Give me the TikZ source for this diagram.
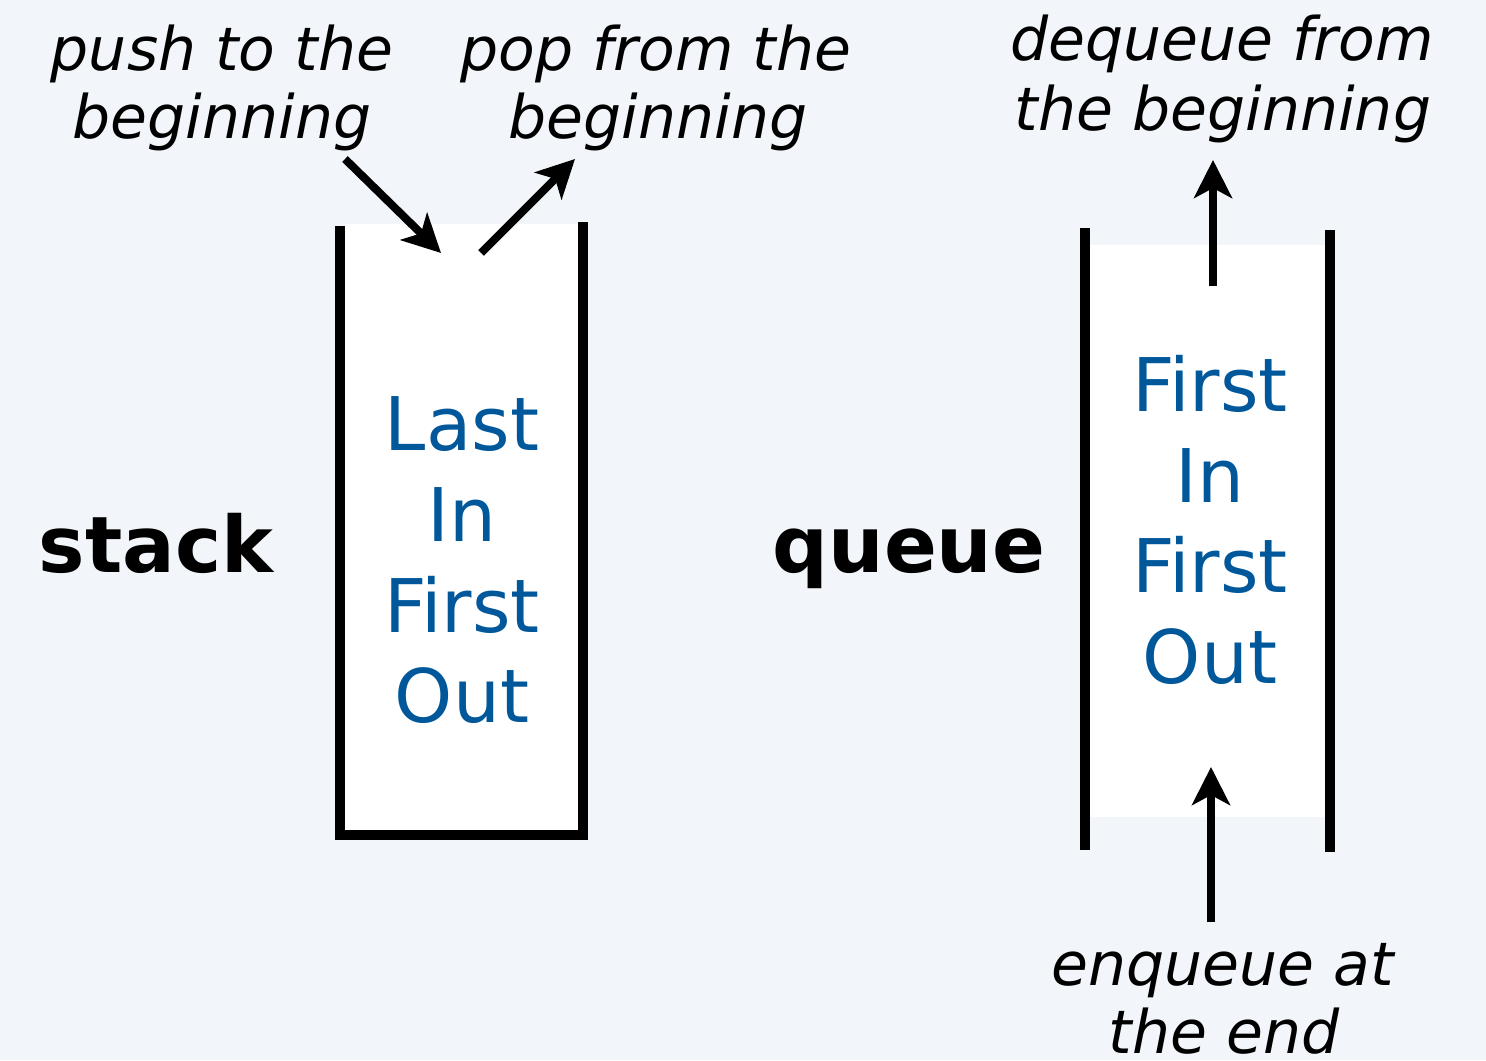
\documentclass[tikz,border=0pt]{standalone}
\usepackage{fontspec}
\setmainfont{DejaVu Sans}[ItalicFont={DejaVu Sans Oblique},BoldFont={DejaVu Sans Bold}]
\usetikzlibrary{arrows.meta}
\definecolor{bg}{HTML}{F2F6FA}
\definecolor{lifo}{HTML}{00589B}
\begin{document}
\begin{tikzpicture}[x=0.5pt,y=-0.5pt,
  note/.style={font=\fontsize{30}{34}\selectfont\itshape, anchor=base, inner sep=0pt},
  title/.style={font=\fontsize{39}{44}\selectfont\bfseries, anchor=base, inner sep=0pt},
  word/.style={font=\fontsize{37}{44}\selectfont, text=lifo, anchor=base, inner sep=0pt},
  wall/.style={line width=5pt, line join=miter},
  op/.style={line width=4pt, -{Stealth[length=19pt,width=19pt,inset=5pt]}}]
\fill[bg] (0,0) rectangle (1486,1060);
\useasboundingbox (0,0) rectangle (1486,1060);

% stack: open-top container
\fill[white] (345,224) rectangle (578,830);
\draw[wall] (340,226) -- (340,835) -- (583,835) -- (583,222);
\node[title] (stack) at (156,572) {stack};
\node[word] (s1) at (462,450) {Last};
\node[word] (s2) at (462,541) {In};
\node[word] (s3) at (462,632) {First};
\node[word] (s4) at (462,722) {Out};

\node[note] (push1) at (222,70) {push to the};
\node[note] (push2) at (222,138) {beginning};
\node[note] (pop1) at (656,70) {pop from the};
\node[note] (pop2) at (658,138) {beginning};

\coordinate (pushfrom) at (345,159);
\coordinate (pushto) at (441,253);
\coordinate (popfrom) at (481,253);
\coordinate (popto) at (575,159);
\draw[op] (pushfrom) -- (pushto);
\draw[op] (popfrom) -- (popto);

% queue: tube open at both ends
\fill[white] (1090,245) rectangle (1330,817);
\draw[wall] (1085,228) -- (1085,850);
\draw[wall] (1330,230) -- (1330,852);
\node[title] (queue) at (909,572) {queue};
\node[word] (q1) at (1210,411) {First};
\node[word] (q2) at (1210,502) {In};
\node[word] (q3) at (1210,592) {First};
\node[word] (q4) at (1210,683) {Out};

\node[note] (deq1) at (1222,60) {dequeue from};
\node[note] (deq2) at (1223,130) {the beginning};
\node[note] (enq1) at (1223,985) {enqueue at};
\node[note] (enq2) at (1224,1053) {the end};

\coordinate (deqfrom) at (1213,286);
\coordinate (deqto) at (1213,160);
\coordinate (enqfrom) at (1211,922);
\coordinate (enqto) at (1211,767);
\draw[op] (deqfrom) -- (deqto);
\draw[op] (enqfrom) -- (enqto);
\end{tikzpicture}
\end{document}
